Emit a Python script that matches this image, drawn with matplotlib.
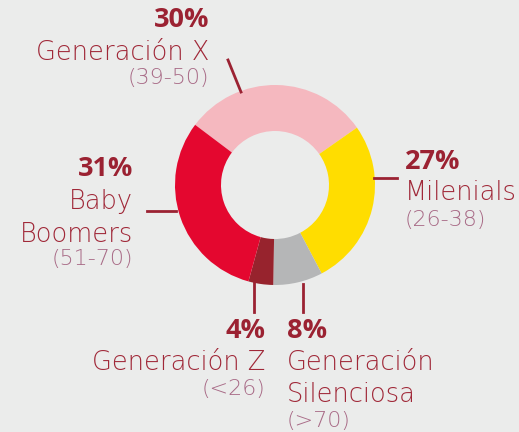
import matplotlib
matplotlib.use('Agg')
import matplotlib.pyplot as plt

# data
shares = [30, 27, 8, 4, 31]
percents = ['30%', '27%', '8%', '4%', '31%']
names = ['Generación X', 'Milenials', 'Generación\nSilenciosa', 'Generación Z', 'Baby\nBoomers']
ranges = ['(39-50)', '(26-38)', '(>70)', '(<26)', '(51-70)']
colors = ['#f5b8bf', '#ffdd00', '#b5b6b7', '#97232d', '#e4072f']

bg = '#ebeceb'
pct_col = '#9b2232'
name_col = '#a02838'
rng_col = '#a86a86'

W, H = 519, 432
fig = plt.figure(figsize=(W / 100, H / 100), dpi=100, facecolor=bg)
ax = fig.add_axes([0, 0, 1, 1])
ax.set_facecolor(bg)

cx, cy = 275, H - 185
ax.pie(shares, colors=colors, startangle=143, counterclock=False,
       center=(cx, cy), radius=100, wedgeprops=dict(width=46, linewidth=0))

ax.set_xlim(0, W)
ax.set_ylim(0, H)
ax.set_aspect('equal')
ax.axis('off')

plt.rcParams['font.family'] = ['DejaVu Sans']

def y(p):
    return H - p

# leader lines (pixel coords of the reference)
lc = '#9b2232'
ax.plot([228, 241], [y(60), y(92)], color=lc, lw=2)
ax.plot([374, 397], [y(178), y(178)], color=lc, lw=2)
ax.plot([147, 176], [y(211), y(211)], color=lc, lw=2)
ax.plot([254, 254], [y(282), y(312)], color=lc, lw=2)
ax.plot([303, 303], [y(284), y(312)], color=lc, lw=2)

def label(x, yp, ha, i, name_ys, rng_y):
    ax.text(x, y(yp), percents[i], ha=ha, va='center', fontsize=19.5,
            fontweight='bold', color=pct_col, family='Open Sans')
    for line, ny in zip(names[i].split('\n'), name_ys):
        ax.text(x, y(ny), line, ha=ha, va='center', fontsize=18.5,
                fontweight='light', color=name_col)
    ax.text(x, y(rng_y), ranges[i], ha=ha, va='center', fontsize=16,
            fontweight='light', color=rng_col)

label(209, 20, 'right', 0, [52], 78)
label(405, 162, 'left', 1, [193], 220)
label(287, 331, 'left', 2, [362, 394], 421)
label(265, 331, 'right', 3, [362], 389)
label(133, 169, 'right', 4, [201, 234], 259)

fig.savefig('out.png', dpi=100, facecolor=bg)
